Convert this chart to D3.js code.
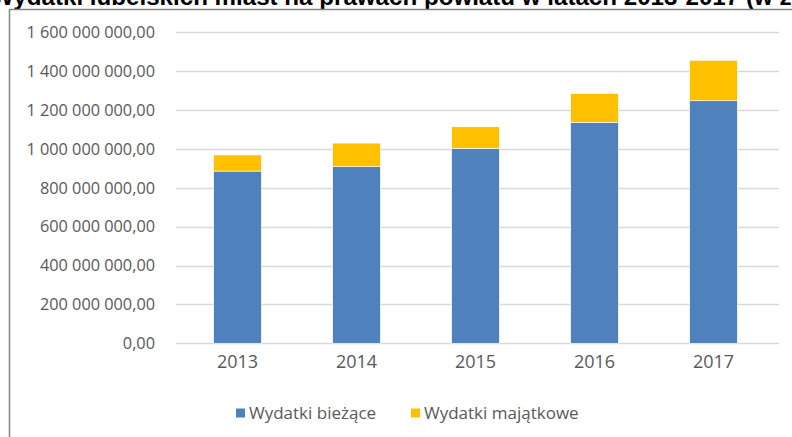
<!DOCTYPE html>
<html>
<head>
<meta charset="utf-8">
<script src="https://cdn.jsdelivr.net/npm/d3@7"></script>
<style>
  html, body { margin: 0; padding: 0; background: #fff; }
  svg { display: block; }
</style>
</head>
<body>
<svg id="chart" width="792" height="437"></svg>
<script>
// Data (zł)
const years = ['2013', '2014', '2015', '2016', '2017'];
const wydatkiBiezace = [886e6, 909e6, 1003e6, 1137e6, 1248e6];
const wydatkiMajatkowe = [83e6, 121e6, 111e6, 148e6, 208e6];
const seriesNames = ['Wydatki bieżące', 'Wydatki majątkowe'];
const seriesColors = ['#4F81BD', '#FFC000'];
const yTicks = [0, 2e8, 4e8, 6e8, 8e8, 10e8, 12e8, 14e8, 16e8];
const title = 'Wydatki lubelskich miast na prawach powiatu w latach 2013-2017 (w zł)';

const W = 792, H = 437;
const fontFamily = "'Open Sans', 'DejaVu Sans', sans-serif";
const textColor = '#595959';

const svg = d3.select('#chart');

// cropped title at the very top
const titleText = svg.append('text')
  .attr('x', -9)
  .attr('y', 5)
  .style('font-family', "'Liberation Sans', Arial, sans-serif")
  .style('font-weight', 'bold')
  .style('font-size', '20px')
  .style('fill', '#000')
  .text(title);
// fit so that "(w " ends around x=780
const prefixLen = title.indexOf('(w ') + 3;
const measured = titleText.node().getSubStringLength(0, prefixLen);
titleText.style('font-size', (20 * 789 / measured) + 'px');

// frame
svg.append('path')
  .attr('d', `M9.5,${H} V9.5 H${W}`)
  .style('fill', 'none')
  .style('stroke', '#848484')
  .style('stroke-width', 1.5);

const plot = { left: 178, right: 773, top: 32.3, bottom: 343.3 };

const x = d3.scaleBand()
  .domain(years)
  .range([plot.left, plot.right])
  .paddingInner(0.6)
  .paddingOuter(0.3);

const y = d3.scaleLinear()
  .domain([0, 16e8])
  .range([plot.bottom, plot.top]);

const plLocale = d3.formatLocale({ decimal: ',', thousands: ' ', grouping: [3], currency: ['', ' zł'] });
const fmt = plLocale.format(',.2f');

// gridlines
svg.append('g')
  .selectAll('line')
  .data(yTicks)
  .join('line')
  .attr('x1', 176)
  .attr('x2', 779)
  .attr('y1', d => Math.round(y(d)) + 0.5)
  .attr('y2', d => Math.round(y(d)) + 0.5)
  .style('stroke', '#D9D9D9')
  .style('stroke-width', 1.3);

// y axis labels
const yAxis = svg.append('g')
  .attr('transform', `translate(${plot.left - 23},0)`)
  .call(d3.axisLeft(y).tickValues(yTicks).tickFormat(fmt).tickSize(0).tickPadding(0));
yAxis.select('.domain').remove();
yAxis.selectAll('text')
  .style('font-family', fontFamily)
  .style('font-size', '16.3px')
  .style('fill', textColor);

// stacked bars
const rows = years.map((yr, i) => ({ year: yr, a: wydatkiBiezace[i], b: wydatkiMajatkowe[i] }));
const stacked = d3.stack().keys(['a', 'b'])(rows);

svg.append('g')
  .selectAll('g')
  .data(stacked)
  .join('g')
  .style('fill', (d, i) => seriesColors[i])
  .selectAll('rect')
  .data(d => d)
  .join('rect')
  .attr('x', d => x(d.data.year))
  .attr('width', x.bandwidth())
  .attr('y', d => y(d[1]))
  .attr('height', d => y(d[0]) - y(d[1]))
  .style('stroke', '#fff')
  .style('stroke-width', 0.6);

// x axis labels
const xAxis = svg.append('g')
  .attr('transform', `translate(0,${plot.bottom + 12})`)
  .call(d3.axisBottom(x).tickSize(0).tickPadding(0));
xAxis.select('.domain').remove();
xAxis.selectAll('text')
  .attr('dy', '0.71em')
  .style('font-family', fontFamily)
  .style('font-size', '18px')
  .style('fill', textColor);

// legend
const legendX = [236, 411];
const legend = svg.append('g')
  .selectAll('g')
  .data(seriesNames)
  .join('g')
  .attr('transform', (d, i) => `translate(${legendX[i]},408.5)`);
legend.append('rect')
  .attr('width', 9)
  .attr('height', 9)
  .style('fill', (d, i) => seriesColors[i]);
legend.append('text')
  .attr('x', 13)
  .attr('y', 4.5)
  .attr('dy', '0.35em')
  .style('font-family', fontFamily)
  .style('font-size', '17px')
  .style('fill', textColor)
  .text(d => d);
</script>
</body>
</html>
